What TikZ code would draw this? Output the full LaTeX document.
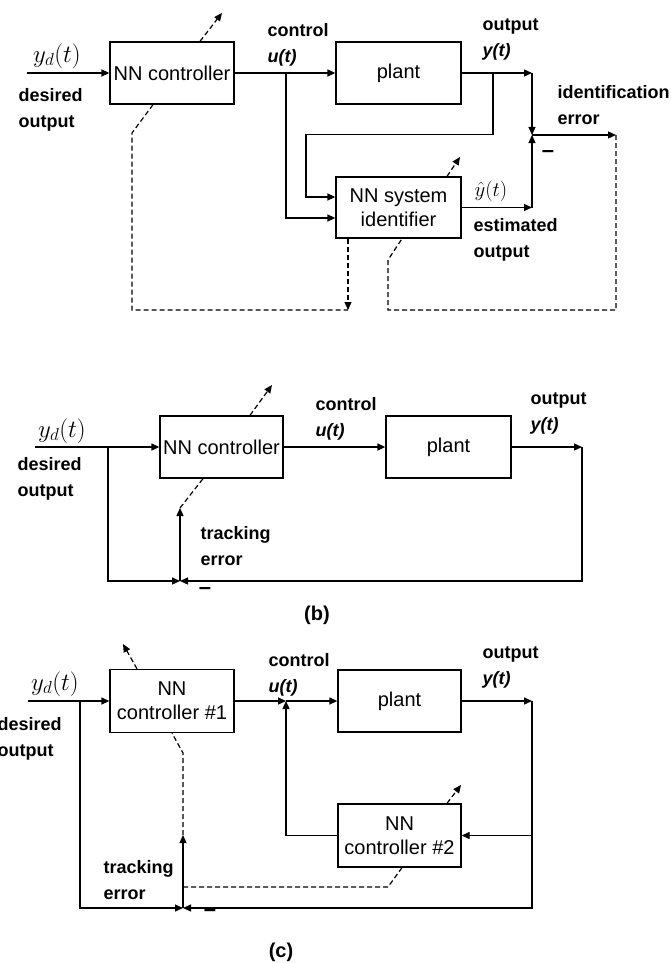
\documentclass[tikz,border=0pt]{standalone}
\usepackage{fontspec}
\setmainfont{Liberation Sans}
\usetikzlibrary{arrows.meta}
\begin{document}
\begin{tikzpicture}[x=1pt,y=-1pt,
  line width=1.3pt,
  >={Triangle[length=8pt,width=7pt]},
  blk/.style={draw, inner sep=0pt, font=\fontsize{20}{24}\selectfont, align=center},
  lbl/.style={inner sep=0pt, font=\fontsize{18}{26}\selectfont\bfseries, align=left, anchor=west},
  mth/.style={inner sep=0pt, font=\fontsize{20}{24}\selectfont},
  yd/.style={inner sep=0pt, font=\fontsize{24}{28}\selectfont},
  mns/.style={inner sep=0pt, font=\fontsize{22}{24}\selectfont\bfseries},
  figlab/.style={inner sep=0pt, font=\fontsize{20}{24}\selectfont\bfseries},
  dsh/.style={dash pattern=on 5pt off 3pt, line width=1.2pt},
]
\fill[white] (0,0) rectangle (670,963);
\useasboundingbox (0,0) rectangle (670,963);

% ---------------- (a) ----------------
\node[blk, minimum width=124pt, minimum height=62pt] (cA) at (172,73) {NN controller};
\node[blk, minimum width=125pt, minimum height=62pt] (pA) at (398.5,73) {plant};
\node[blk, minimum width=125pt, minimum height=61pt] (iA) at (398.5,207.5) {NN system\\identifier};
\coordinate (inA) at (27,73);
\coordinate (uA) at (286,73);
\coordinate (yA) at (532,73);
\coordinate (bA) at (493,73);
\coordinate (b1A) at (493,134.5);
\coordinate (b2A) at (306,134.5);
\coordinate (jA) at (532,135);
\coordinate (hA) at (532,207.5);
\coordinate (eA) at (616,135);
\coordinate (d1A) at (616,310);
\coordinate (d2A) at (388,310);
\coordinate (d3A) at (388,260);
\coordinate (gA) at (348,310);
\coordinate (k1A) at (132,133);
\coordinate (k2A) at (132,310);
\coordinate (tA) at (222,13);
\coordinate (t2A) at (460,157);
\draw[->] (inA) -- (cA);
\draw[->] (cA) -- (pA);
\draw[->] (uA) |- ([yshift=-10.5pt]iA.west);
\draw[->] (pA) -- (yA);
\draw[->] (yA) -- (jA);
\draw[->] (bA) -- (b1A) -- (b2A) |- ([yshift=10.5pt]iA.west);
\draw[->] (iA) -- (hA);
\draw[->] (hA) -- (jA);
\draw[->] (jA) -- (eA);
\draw[dsh] (eA) -- (d1A) -- (d2A) -- (d3A) -- ([xshift=3.5pt]iA.south);
\draw[dsh,->] ([xshift=-50.5pt]iA.south) -- (gA);
\draw[dsh] ([xshift=-19pt]cA.south) -- (k1A) -- (k2A) -- (gA);
\draw[dsh,->] ([xshift=28pt]cA.north) -- (tA);
\draw[dsh,->] ([xshift=48.5pt]iA.north) -- (t2A);
\node[yd] (ydA) at (57,56) {$y_d(t)$};
\node[lbl] (desA) at (18,110) {desired\\output};
\node[lbl] (ctlA) at (267,45) {control\\\textit{u(t)}};
\node[lbl] (outA) at (482,39) {output\\\textit{y(t)}};
\node[lbl] (ideA) at (557,105.5) {identification\\error};
\node[mns] (minA) at (548,154) {–};
\node[mth, anchor=west] (yhA) at (474,191) {$\hat{y}(t)$};
\node[lbl] (estA) at (473,239.5) {estimated\\output};

% ---------------- (b) ----------------
\node[blk, minimum width=123pt, minimum height=62pt] (cB) at (221.5,447) {NN controller};
\node[blk, minimum width=125pt, minimum height=62pt] (pB) at (448.5,447) {plant};
\coordinate (inB) at (35,447);
\coordinate (bB) at (108,447);
\coordinate (b1B) at (108,581);
\coordinate (jB) at (180,581);
\coordinate (yB) at (582,447);
\coordinate (y1B) at (582,581);
\coordinate (tB) at (180,508);
\coordinate (uB) at (272,385);
\draw[->] (inB) -- (cB);
\draw[->] (bB) -- (b1B) -- (jB);
\draw[->] (cB) -- (pB);
\draw[->] (pB) -- (yB);
\draw[->] (yB) -- (y1B) -- (jB);
\draw[->] (jB) -- (tB);
\draw[dsh] (tB) -- ([xshift=-18.5pt]cB.south);
\draw[dsh,->] ([xshift=28.5pt]cB.north) -- (uB);
\node[yd] (ydB) at (62,431) {$y_d(t)$};
\node[lbl] (desB) at (17,479) {desired\\output};
\node[lbl] (ctlB) at (315,418.5) {control\\\textit{u(t)}};
\node[lbl] (outB) at (530,413.5) {output\\\textit{y(t)}};
\node[lbl] (trkB) at (200,546.5) {tracking\\error};
\node[mns] (minB) at (205,591) {–};
\node[figlab] (labB) at (317,615) {(b)};

% ---------------- (c) ----------------
\node[blk, minimum width=124pt, minimum height=63pt] (cC) at (172,701) {NN\\controller \#1};
\node[blk, minimum width=123pt, minimum height=62pt] (pC) at (399.5,701) {plant};
\node[blk, minimum width=123pt, minimum height=63pt] (nC) at (399.5,835.5) {NN\\controller \#2};
\coordinate (inC) at (28,701);
\coordinate (bC) at (80,701);
\coordinate (b1C) at (80,908);
\coordinate (jC) at (183,908);
\coordinate (sC) at (286,701);
\coordinate (yC) at (532,701);
\coordinate (y1C) at (532,908);
\coordinate (y2C) at (532,835.5);
\coordinate (tC) at (183,835);
\coordinate (t1C) at (183,753);
\coordinate (hC) at (183,887);
\coordinate (h1C) at (388,887);
\coordinate (uC) at (123,644);
\coordinate (u2C) at (461,785);
\draw[->] (inC) -- (cC);
\draw[->] (bC) -- (b1C) -- (jC);
\draw[->] (cC) -- (sC);
\draw[->] (sC) -- (pC);
\draw[->] (nC) -| (sC);
\draw[->] (pC) -- (yC);
\draw[->] (yC) -- (y1C) -- (jC);
\draw[->] (y2C) -- (nC);
\draw[->] (jC) -- (tC);
\draw[dsh] (tC) -- (t1C) -- (cC.south);
\draw[dsh] (hC) -- (h1C) -- ([xshift=2.5pt]nC.south);
\draw[dsh,->] ([xshift=-35pt]cC.north) -- (uC);
\draw[dsh,->] ([xshift=47.5pt]nC.north) -- (u2C);
\node[yd] (ydC) at (55,684) {$y_d(t)$};
\node[lbl] (desC) at (-3,738.5) {desired\\output};
\node[lbl] (ctlC) at (268,674.5) {control\\\textit{u(t)}};
\node[lbl] (outC) at (482,667.5) {output\\\textit{y(t)}};
\node[lbl] (trkC) at (103,880) {tracking\\error};
\node[mns] (minC) at (210,913) {–};
\node[figlab] (labC) at (281,952) {(c)};
\end{tikzpicture}
\end{document}
